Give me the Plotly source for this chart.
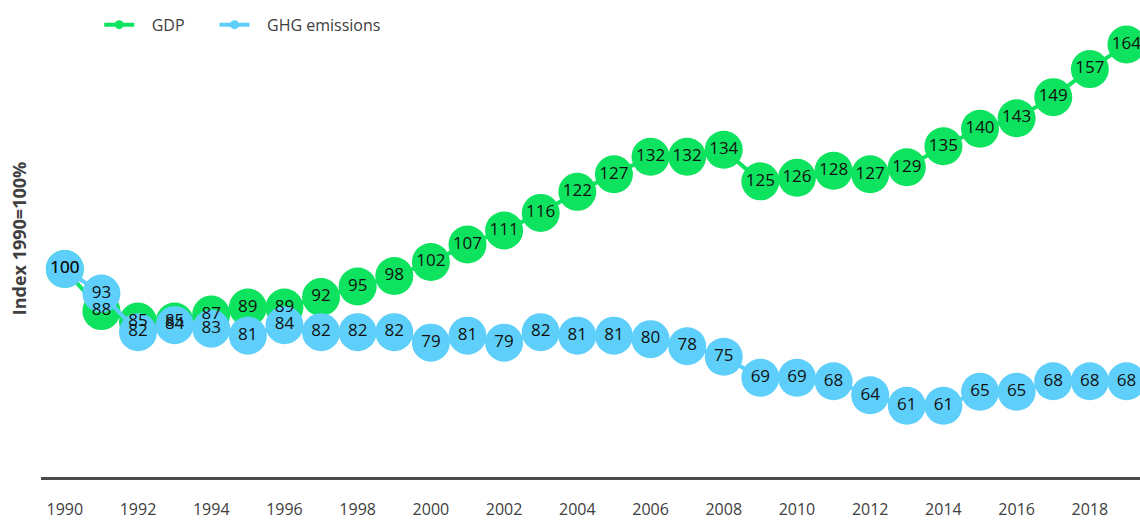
import plotly.graph_objects as go

years = list(range(1990, 2020))
gdp = [100, 88, 85, 85, 87, 89, 89, 92, 95, 98, 102, 107, 111, 116, 122, 127, 132, 132, 134, 125,
       126, 128, 127, 129, 135, 140, 143, 149, 157, 164]
ghg = [100, 93, 82, 84, 83, 81, 84, 82, 82, 82, 79, 81, 79, 82, 81, 81, 80, 78, 75, 69,
       69, 68, 64, 61, 61, 65, 65, 68, 68, 68]
tick_years = list(range(1990, 2019, 2))

GREEN = "#0EE35F"
BLUE = "#5DCFFA"
FONT = "Open Sans"
NB = "\u00a0"

fig = go.Figure()

fig.add_trace(go.Scatter(x=years, y=gdp, mode="lines+markers", showlegend=False,
                         line=dict(color=GREEN, width=4),
                         marker=dict(size=38, color=GREEN), hoverinfo="skip"))
fig.add_trace(go.Scatter(x=years, y=ghg, mode="lines+markers", showlegend=False,
                         line=dict(color=BLUE, width=4),
                         marker=dict(size=38, color=BLUE), hoverinfo="skip"))
fig.add_trace(go.Scatter(x=years, y=gdp, mode="text", text=[str(v) for v in gdp],
                         textfont=dict(family=FONT, size=17, color="#111111"),
                         showlegend=False, hoverinfo="skip"))
fig.add_trace(go.Scatter(x=years, y=ghg, mode="text", text=[str(v) for v in ghg],
                         textfont=dict(family=FONT, size=17, color="#111111"),
                         showlegend=False, hoverinfo="skip"))
fig.add_trace(go.Scatter(x=[None], y=[None], mode="lines+markers", name=NB * 3 + "GDP" + NB * 6,
                         line=dict(color=GREEN, width=4), marker=dict(size=9, color=GREEN)))
fig.add_trace(go.Scatter(x=[None], y=[None], mode="lines+markers", name=NB * 3 + "GHG emissions",
                         line=dict(color=BLUE, width=4), marker=dict(size=9, color=BLUE)))

fig.update_layout(
    width=1140, height=520,
    margin=dict(l=41, r=0, t=0, b=38),
    paper_bgcolor="white", plot_bgcolor="white",
    font=dict(family=FONT, size=16, color="#404040"),
    showlegend=True,
    legend=dict(orientation="h", x=0.053, y=1 - 25 / 482, xanchor="left", yanchor="middle",
                font=dict(family=FONT, size=16, color="#404040"),
                bgcolor="rgba(0,0,0,0)"),
    xaxis=dict(range=[1989.35, 2019.37], tickvals=tick_years, ticktext=[str(y) for y in tick_years],
               showgrid=False, zeroline=False, showline=True, linecolor="#4a4a4a", linewidth=3,
               ticks="", ticklabelstandoff=16,
               tickfont=dict(family=FONT, size=16, color="#404040")),
    yaxis=dict(range=[40.7, 176.7], showticklabels=False, showgrid=False, zeroline=False,
               showline=False, ticks="",
               title=dict(text="<b>Index 1990=100%</b>", font=dict(family=FONT, size=18, color="#404040"),
                          standoff=8)),
)

fig.write_html("out.html")
